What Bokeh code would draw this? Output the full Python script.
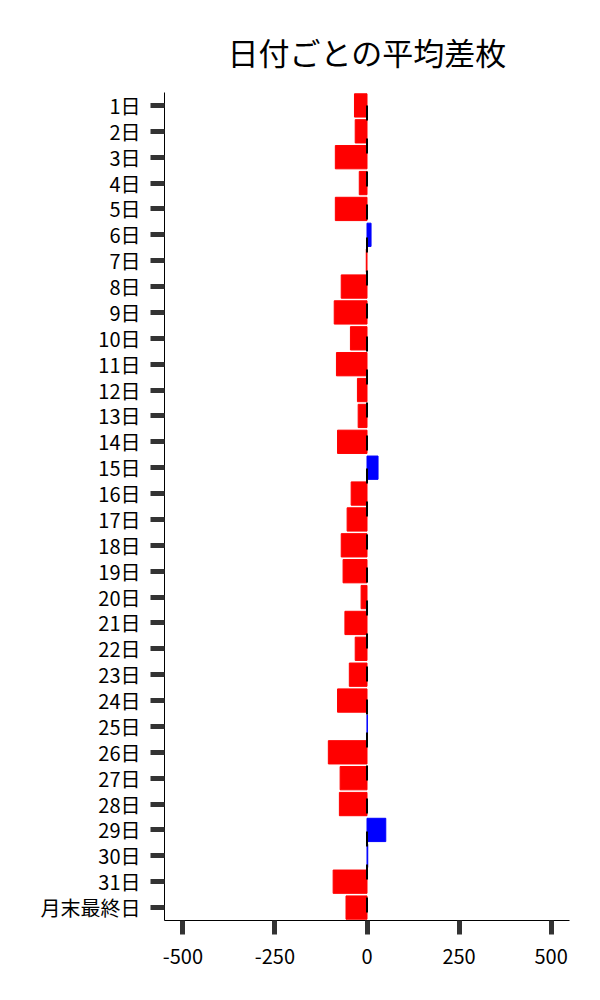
from bokeh.plotting import figure
from bokeh.models import FactorRange, Range1d, FixedTicker, Span, ColumnDataSource, CustomJSTickFormatter
from bokeh.embed import file_html
from bokeh.resources import INLINE

days = [f"{i}日" for i in range(1, 32)] + ["月末最終日"]
values = [-34, -32, -86, -21, -86, 11, -2, -70, -89, -45, -83, -26, -24, -80, 30, -43,
          -54, -70, -65, -16, -60, -32, -48, -80, 1, -105, -73, -75, 51, 2, -92, -57]
x_ticks = [-500, -250, 0, 250, 500]
title_text = "日付ごとの平均差枚"

colors = ["#0000FF" if v > 0 else "#FF0000" for v in values]
src = ColumnDataSource(dict(day=days, value=values, color=colors))

FONT = "Noto Sans CJK JP"

p = figure(width=584, height=980, output_backend="svg", toolbar_location=None,
           y_range=FactorRange(factors=list(reversed(days)), range_padding=0),
           x_range=Range1d(-550, 550),
           min_border_left=164, min_border_right=15, min_border_top=92, min_border_bottom=60)

p.hbar(y="day", left=0, right="value", height=0.9, color="color", source=src)

p.add_layout(Span(location=0, dimension="height", line_color="black", line_width=2,
                  line_dash="15 18", line_dash_offset=20))

p.title.text = title_text
p.title.text_font = FONT
p.title.text_font_size = "31px"
p.title.text_font_style = "normal"
p.title.text_color = "black"
p.title.align = "center"
p.title.standoff = 38

p.outline_line_color = None
p.xgrid.visible = False
p.ygrid.visible = False

for ax in (p.xaxis[0], p.yaxis[0]):
    ax.axis_line_color = "black"
    ax.axis_line_width = 1
    ax.major_tick_line_color = "#333333"
    ax.major_tick_line_width = 5
    ax.major_tick_out = 14
    ax.major_tick_in = 0
    ax.minor_tick_line_color = None
    ax.major_label_text_font = FONT
    ax.major_label_text_font_size = "20px"
    ax.major_label_text_color = "black"

p.xaxis.ticker = FixedTicker(ticks=x_ticks)
p.xaxis.formatter = CustomJSTickFormatter(code="return String(tick);")
p.xaxis.major_label_standoff = 14
p.yaxis.major_label_standoff = 10

open("out.html", "w").write(file_html(p, INLINE))
